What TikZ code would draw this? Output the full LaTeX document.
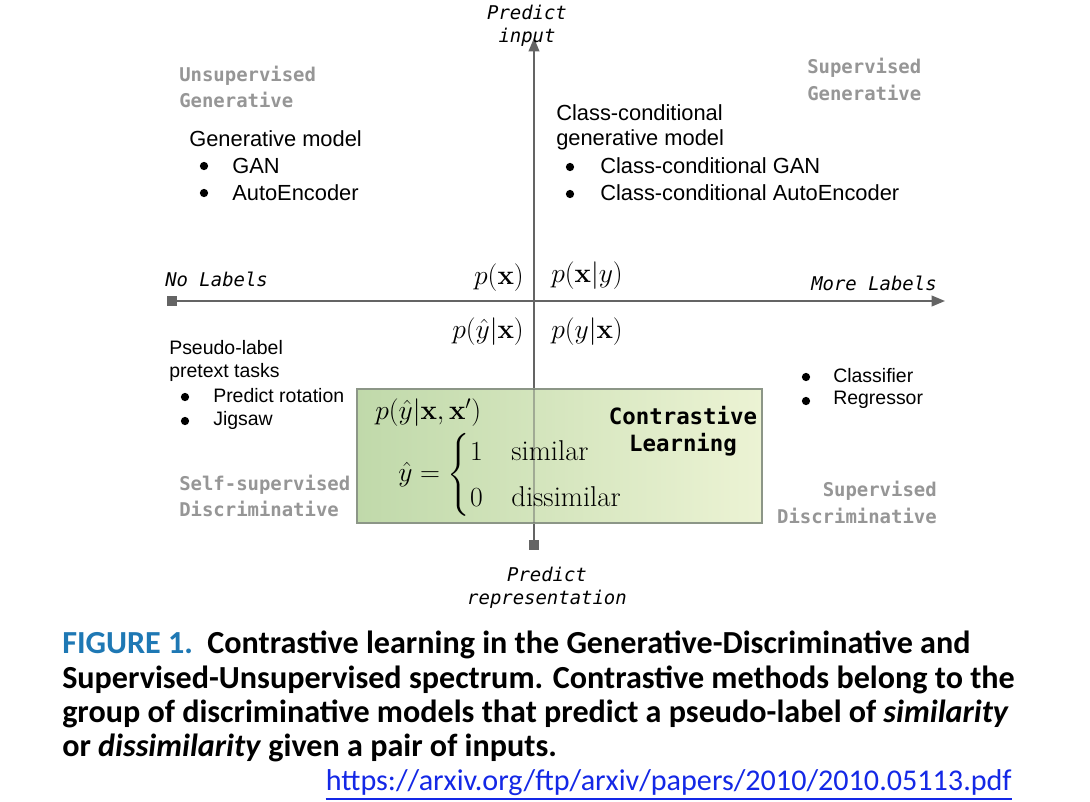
\documentclass[tikz,border=0pt]{standalone}
\usepackage{amsmath}
\usepackage[no-math]{fontspec}
\setmainfont{Liberation Sans}
\newfontfamily\monofam{DejaVu Sans Mono}
\newfontfamily\capfont{Carlito}
\newfontfamily\lmrfam{Latin Modern Roman}
\usetikzlibrary{arrows.meta,positioning}
\definecolor{axisgray}{RGB}{100,100,100}
\definecolor{quadgray}{RGB}{150,150,150}
\definecolor{boxleft}{RGB}{192,217,170}
\definecolor{boxright}{RGB}{236,243,212}
\definecolor{boxborder}{RGB}{140,150,135}
\definecolor{figblue}{RGB}{30,120,180}
\definecolor{urlblue}{RGB}{20,40,230}
\tikzset{
  axisline/.style={draw=axisgray, line width=1.3pt},
  quadlabel/.style={font=\monofam\bfseries\fontsize{14.2pt}{18pt}\selectfont, text=quadgray, inner sep=0pt, align=left},
  axlabel/.style={font=\monofam\itshape\fontsize{14.2pt}{18pt}\selectfont, text=black, inner sep=0pt},
  bodytext/.style={font=\fontsize{16.4pt}{20pt}\selectfont, inner sep=0pt, anchor=west},
  smalltext/.style={font=\fontsize{14.6pt}{18pt}\selectfont, inner sep=0pt, anchor=west},
  bul/.style={circle, fill=black, minimum size=6.2pt, inner sep=0pt},
  mathlbl/.style={font=\fontsize{20pt}{24pt}\selectfont, inner sep=0pt},
  caseslbl/.style={font=\fontsize{21.5pt}{26pt}\selectfont, inner sep=0pt},
  contrastlbl/.style={font=\monofam\bfseries\fontsize{16.8pt}{21pt}\selectfont, inner sep=0pt},
  captionline/.style={font=\capfont\bfseries\fontsize{24.1pt}{28pt}\selectfont, inner sep=0pt, anchor=west},
  sqend/.style={fill=axisgray, minimum size=7pt, inner sep=0pt},
  greenbox/.style={draw=boxborder, line width=1pt, left color=boxleft, right color=boxright},
}
\begin{document}
\begin{tikzpicture}[x=0.75pt,y=-0.75pt]
\useasboundingbox (0,0) rectangle (1090,801);
\fill[white] (0,0) rectangle (1090,801);

% axes
\coordinate (vtop) at (534,38);
\coordinate (vbot) at (534,545);
\coordinate (hleft) at (172,301);
\coordinate (hright) at (945,301);
\draw[axisline, -{Triangle[length=10pt,width=8pt]}] (vbot) -- (vtop);
\draw[axisline, -{Triangle[length=10pt,width=8pt]}] (hleft) -- (hright);
\node[sqend] (sqb) at (vbot) {};
\node[sqend] (sql) at (hleft) {};

% green box
\path[greenbox] (357,389) rectangle (762,523);
\node[inner sep=0pt] (box) at (559.5,456) {};
\draw[axisgray, line width=1pt, opacity=0.45] (534,389) -- (534,523);

% axis labels
\node[axlabel] (predin1) at (527,12) {Predict};
\node[axlabel] (predin2) at (527,37) {input};
\node[axlabel, anchor=west] (nolab) at (165,279) {No Labels};
\node[axlabel, anchor=west] (morelab) at (811,283) {More Labels};
\node[axlabel] (predrep1) at (547,574) {Predict};
\node[axlabel] (predrep2) at (547,599) {representation};

% quadrant labels
\node[quadlabel, anchor=west] (ug1) at (179,76) {Unsupervised};
\node[quadlabel, anchor=west] (ug2) at (179,100) {Generative};
\node[quadlabel, anchor=west] (sg1) at (807,68) {Supervised};
\node[quadlabel, anchor=west] (sg2) at (807,93) {Generative};
\node[quadlabel, anchor=west] (sd1) at (179,485) {Self-supervised};
\node[quadlabel, anchor=west] (sd2) at (179,509) {Discriminative};
\node[quadlabel, anchor=east] (su1) at (937,491) {Supervised};
\node[quadlabel, anchor=east] (su2) at (937,516) {Discriminative};

% top-left
\node[bodytext] (gm) at (189,139) {Generative model};
\node[bul] (b1) at (204,166) {};
\node[bodytext] (gan) at (232,166) {GAN};
\node[bul] (b2) at (204,193) {};
\node[bodytext] (ae) at (232,193) {AutoEncoder};

% top-right
\node[bodytext] (cc1) at (556,113) {Class-conditional};
\node[bodytext] (cc2) at (556,140) {generative model};
\node[bul] (b3) at (570,167) {};
\node[bodytext] (ccgan) at (600,166) {Class-conditional GAN};
\node[bul] (b4) at (570,194) {};
\node[bodytext] (ccae) at (600,193) {Class-conditional AutoEncoder};

% bottom-left
\node[smalltext] (pl1) at (169,348) {Pseudo-label};
\node[smalltext] (pl2) at (169,372) {pretext tasks};
\node[bul] (b5) at (185,397) {};
\node[smalltext] (rot) at (213,396) {Predict rotation};
\node[bul] (b6) at (185,421) {};
\node[smalltext] (jig) at (213,420) {Jigsaw};

% bottom-right
\node[bul] (b7) at (806,377) {};
\node[smalltext] (cls) at (833,376) {Classifier};
\node[bul] (b8) at (806,401) {};
\node[smalltext] (reg) at (833,400) {Regressor};

% math labels
\node[mathlbl, anchor=east] (px) at (524,278) {$p(\mathbf{x})$};
\node[mathlbl, anchor=west] (pxy) at (551,276) {$p(\mathbf{x}|y)$};
\node[mathlbl, anchor=east] (pyhx) at (524,332) {$p(\hat{y}|\mathbf{x})$};
\node[mathlbl, anchor=west] (pyx) at (551,332) {$p(y|\mathbf{x})$};

% box content
\node[mathlbl, anchor=west] (pyxx) at (375,413) {$p(\hat{y}|\mathbf{x},\mathbf{x}')$};
\node[caseslbl, anchor=west] (cases) at (398,475) {$\hat{y}=\begin{cases}1 & \text{\lmrfam similar}\\[3pt] 0 & \text{\lmrfam dissimilar}\end{cases}$};
\node[contrastlbl] (cl1) at (683,416) {Contrastive};
\node[contrastlbl] (cl2) at (683,445) {Learning};

% caption
\node[captionline] (cap1) at (62,645) {\textcolor{figblue}{FIGURE 1.}\ \ Contrastive learning in the Generative-Discriminative and};
\node[captionline] (cap2) at (62,680) {Supervised-Unsupervised spectrum. Contrastive methods belong to the};
\node[captionline] (cap3) at (62,714) {group of discriminative models that predict a pseudo-label of \textit{similarity}};
\node[captionline] (cap4) at (62,748) {or \textit{dissimilarity} given a pair of inputs.};
\node[font=\capfont\fontsize{22.6pt}{26pt}\selectfont, text=urlblue, inner sep=0pt, anchor=east] (url) at (1012,783) {https://arxiv.org/ftp/arxiv/papers/2010/2010.05113.pdf};
\draw[urlblue, line width=0.8pt] ([yshift=-2pt]url.south west) -- ([yshift=-2pt]url.south east);
\end{tikzpicture}
\end{document}
